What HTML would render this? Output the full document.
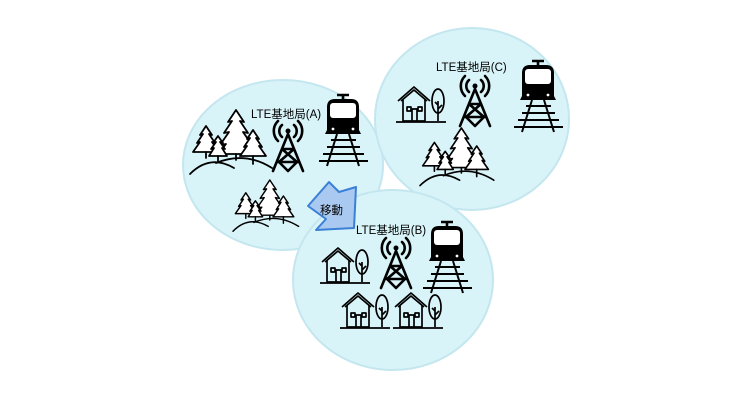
<!DOCTYPE html>
<html><head><meta charset="utf-8"><style>
html,body{margin:0;padding:0;background:#fff;}
svg{display:block;}
text{font-family:"Liberation Sans","Noto Sans CJK JP",sans-serif;}
</style></head><body>
<svg width="750" height="400" viewBox="0 0 750 400" xmlns="http://www.w3.org/2000/svg">
<defs>
<g id="forest" fill="none" stroke="#000" stroke-width="1.8" stroke-linecap="round" stroke-linejoin="round">
 <path d="M46 0 L38 12 L42 11 L34 23 L39 22 L30 35 L36 34 L28 44 L64 44 L56 34 L62 35 L53 22 L58 23 L50 11 L54 12 Z" fill="#fff"/>
 <path d="M46 44 V50"/>
 <path d="M16 16 L10 25 L13 24 L7 33 L10 32 L3 42 L29 42 L22 32 L25 33 L19 24 L22 25 Z" fill="#fff"/>
 <path d="M28 26 L23 33 L26 32 L21 39 L24 38 L19 46 L37 46 L32 38 L35 39 L30 32 L33 33 Z" fill="#fff"/>
 <path d="M63 20 L57 29 L60 28 L54 37 L57 36 L50 46 L76 46 L69 36 L72 37 L66 28 L69 29 Z" fill="#fff"/>
 <path d="M63 46 V54 M16 42 V48 M28 46 V51"/>
 <path d="M0 64 Q20 44 44 58"/>
 <path d="M26 53 Q55 41 82 58"/>
</g>
<g id="tower" fill="none" stroke="#000" stroke-width="2.6" stroke-linecap="round" stroke-linejoin="round">
 <circle cx="18" cy="10" r="2.5" fill="#000" stroke="none"/>
 <path d="M12 4 A8 8 0 0 0 12 16 M24 4 A8 8 0 0 1 24 16"/>
 <path d="M8 0 A14 14 0 0 0 8 20 M28 0 A14 14 0 0 1 28 20"/>
 <path d="M18 13 L3 50 M18 13 L33 50 M12 28 L27 41 M24 28 L9 41 M12 28 H24 M7 41 H29 M9 41 L18 50 M27 41 L18 50"/>
</g>
<g id="train">
 <path d="M21 6 H33 M27 6 V10" stroke="#000" stroke-width="2.6" fill="none"/>
 <path d="M19 10 H35 Q43 10 43 18 V41 L45 45 H9 L11 41 V18 Q11 10 19 10 Z" fill="#000"/>
 <rect x="14" y="14" width="26" height="15" rx="3" fill="#fff"/>
 <circle cx="17" cy="40" r="1.4" fill="#fff"/><circle cx="37" cy="40" r="1.4" fill="#fff"/>
 <g stroke="#000" stroke-width="2" fill="none">
  <path d="M21 45 L11 77 M33 45 L43 77"/>
  <path d="M15 51 H40 M11 58 H44 M7 65 H48 M3 72 H52"/>
 </g>
</g>
<g id="house" fill="none" stroke="#000" stroke-width="1.7" stroke-linejoin="round">
 <path d="M0 16 L16 2 L32 16 M3 16 L16 5 L29 16"/>
 <path d="M5 14 V36 H27 V14"/>
 <rect x="9" y="22" width="4" height="4"/><rect x="20" y="22" width="4" height="4"/>
 <path d="M14 36 V24 H19 V36"/>
 <ellipse cx="40" cy="16" rx="6" ry="12"/>
 <path d="M40 16 V36 M40 24 L44 20 M40 20 L37 17"/>
 <path d="M-2 37 H48"/>
</g>
</defs>

<ellipse cx="283" cy="165" rx="100" ry="85" fill="#d9f4f8" stroke="#c3e6ef" stroke-width="2"/>
<ellipse cx="472" cy="119" rx="97" ry="91" fill="#d9f4f8" stroke="#c3e6ef" stroke-width="2"/>
<ellipse cx="393" cy="280" rx="100" ry="90" fill="#d9f4f8" stroke="#c3e6ef" stroke-width="2"/>

<!-- A -->
<text x="251" y="118" font-size="11.5">LTE基地局(A)</text>
<use href="#forest" x="190" y="110"/>
<use href="#forest" transform="translate(233,180) scale(0.8)"/>
<use href="#tower" x="270" y="121"/>
<use href="#train" x="316" y="89"/>

<!-- C -->
<text x="436" y="71" font-size="11.5">LTE基地局(C)</text>
<use href="#house" x="398" y="85"/>
<use href="#tower" x="457" y="76"/>
<use href="#train" x="511" y="55"/>
<use href="#forest" transform="translate(420,128) scale(0.9)"/>

<!-- B -->
<text x="356" y="234" font-size="11.5">LTE基地局(B)</text>
<use href="#house" x="322" y="246"/>
<use href="#tower" x="378" y="238"/>
<use href="#train" x="420" y="216"/>
<use href="#house" x="342" y="291"/>
<use href="#house" x="395" y="291"/>

<!-- arrow -->
<polygon points="308,206 329,182 339,192 356,187 354,228 316,230 326,219" fill="#a9c9f0" stroke="#3a80d6" stroke-width="2" stroke-linejoin="round"/>
<text x="320" y="214" font-size="11.5">移動</text>
</svg>
</body></html>
